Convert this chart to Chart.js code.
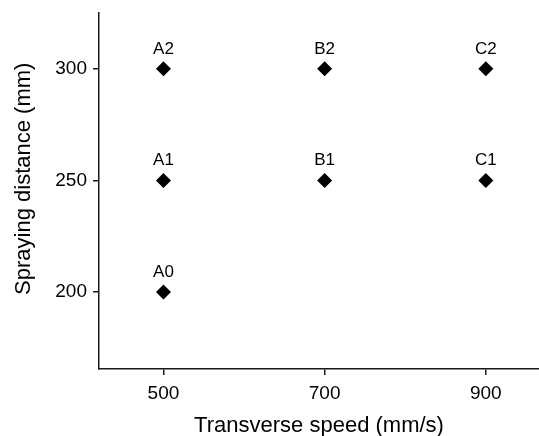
<!DOCTYPE html>
<html>
<head>
<meta charset="utf-8">
<script src="https://cdn.jsdelivr.net/npm/chart.js@4.4.1/dist/chart.umd.min.js"></script>
<style>
  html, body { margin: 0; padding: 0; background: #fff; }
  canvas { display: block; }
</style>
</head>
<body>
<canvas id="chartCanvas" width="539" height="436"></canvas>
<script>
// Data
const pointNames = ["A0", "A1", "A2", "B1", "B2", "C1", "C2"];
const speedValues = [500, 500, 500, 700, 700, 900, 900];
const distanceValues = [200, 250, 300, 250, 300, 250, 300];
const xTickValues = [500, 700, 900];
const yTickValues = [200, 250, 300];

const axisColor = "#1a1a1a";
const fontFamily = "'Liberation Sans', Arial, sans-serif";

// Names written above each marker
const pointLabels = {
  id: "pointLabels",
  afterDatasetsDraw(chart) {
    const { ctx } = chart;
    const meta = chart.getDatasetMeta(0);
    ctx.save();
    ctx.font = "17px " + fontFamily;
    ctx.fillStyle = "#000";
    ctx.textAlign = "center";
    ctx.textBaseline = "alphabetic";
    meta.data.forEach((pt, i) => {
      ctx.fillText(pointNames[i], pt.x, pt.y - 15);
    });
    ctx.restore();
  },
};

document.addEventListener("DOMContentLoaded", () => {
  const ctx = document.getElementById("chartCanvas").getContext("2d");

  new Chart(ctx, {
    type: "scatter",
    data: {
      datasets: [
        {
          data: speedValues.map((s, i) => ({ x: s, y: distanceValues[i] })),
          pointStyle: "rectRot",
          pointRadius: 7.5,
          pointHoverRadius: 7.5,
          backgroundColor: "#000",
          borderColor: "#000",
          borderWidth: 0,
        },
      ],
    },
    options: {
      responsive: false,
      animation: false,
      events: [],
      layout: {
        autoPadding: false,
        padding: { top: 13, right: 0, bottom: 0, left: 0 },
      },
      plugins: { legend: { display: false }, tooltip: { enabled: false } },
      scales: {
        x: {
          type: "linear",
          min: 420,
          max: 966,
          afterBuildTicks: (scale) => {
            scale.ticks = xTickValues.map((v) => ({ value: v }));
          },
          afterFit: (scale) => {
            scale.height = 67;
            scale.paddingLeft = 0;
            scale.paddingRight = 0;
          },
          grid: {
            display: true,
            drawOnChartArea: false,
            drawTicks: true,
            tickLength: 6,
            color: axisColor,
            lineWidth: 1.5,
          },
          border: { display: true, color: axisColor, width: 1.5 },
          ticks: {
            color: "#000",
            padding: 7,
            font: { family: fontFamily, size: 19 },
          },
          title: {
            display: true,
            text: "Transverse speed (mm/s)",
            color: "#000",
            font: { family: fontFamily, size: 22, lineHeight: 1 },
            padding: { top: 0, bottom: -1 },
          },
        },
        y: {
          type: "linear",
          min: 165.5,
          max: 325,
          afterBuildTicks: (scale) => {
            scale.ticks = yTickValues.map((v) => ({ value: v }));
          },
          afterFit: (scale) => {
            scale.width = 99;
            scale.paddingTop = 0;
            scale.paddingBottom = 0;
          },
          grid: {
            display: true,
            drawOnChartArea: false,
            drawTicks: true,
            tickLength: 6,
            color: axisColor,
            lineWidth: 1.5,
          },
          border: { display: true, color: axisColor, width: 1.5 },
          ticks: {
            color: "#000",
            padding: 6,
            font: { family: fontFamily, size: 19 },
          },
          title: {
            display: true,
            text: "    Spraying distance (mm)",
            color: "#000",
            font: { family: fontFamily, size: 22, lineHeight: 1 },
            padding: { top: 13, bottom: 0 },
          },
        },
      },
    },
    plugins: [pointLabels],
  });
});
</script>
</body>
</html>
